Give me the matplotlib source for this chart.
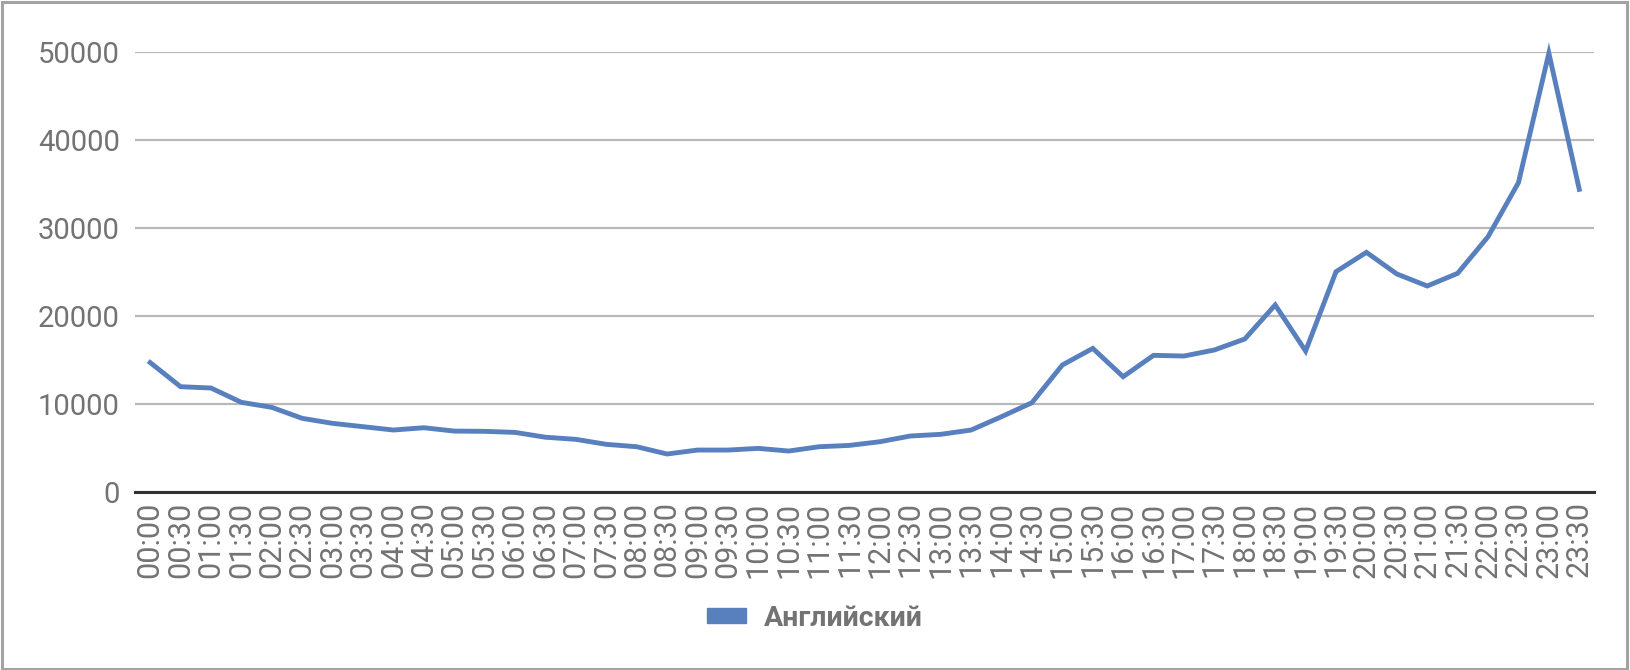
import matplotlib.pyplot as plt
from matplotlib.patches import Rectangle

times = ['00:00', '00:30', '01:00', '01:30', '02:00', '02:30', '03:00', '03:30',
         '04:00', '04:30', '05:00', '05:30', '06:00', '06:30', '07:00', '07:30',
         '08:00', '08:30', '09:00', '09:30', '10:00', '10:30', '11:00', '11:30',
         '12:00', '12:30', '13:00', '13:30', '14:00', '14:30', '15:00', '15:30',
         '16:00', '16:30', '17:00', '17:30', '18:00', '18:30', '19:00', '19:30',
         '20:00', '20:30', '21:00', '21:30', '22:00', '22:30', '23:00', '23:30']
english = [14700, 11950, 11800, 10170, 9600, 8350, 7780, 7400,
           7020, 7280, 6900, 6870, 6750, 6200, 5960, 5390,
           5120, 4290, 4740, 4740, 4930, 4630, 5120, 5270,
           5690, 6340, 6530, 7020, 8540, 10130, 14420, 16310,
           13090, 15520, 15440, 16130, 17380, 21250, 16010, 25040,
           27240, 24780, 23410, 24850, 29020, 35170, 49900, 34410]
yticks = [0, 10000, 20000, 30000, 40000, 50000]
series_name = 'Английский'

plt.rcParams['font.family'] = ['Roboto', 'DejaVu Sans']
grey = '#737373'
blue = '#5880be'

fig = plt.figure(figsize=(16.3, 6.7), dpi=100)
ax = fig.add_axes([0.0828, 0.2661, 0.8954, 0.6558])

ax.plot(range(len(times)), english, color=blue, lw=3.5, solid_joinstyle='miter',
        clip_on=False, label=series_name)

ax.set_xlim(-0.5, len(times) - 0.5)
ax.set_ylim(0, 50000)
ax.set_yticks(yticks)
ax.set_yticklabels([str(v) for v in yticks])
ax.set_xticks(range(len(times)))
ax.set_xticklabels(times, rotation=90)
ax.tick_params(axis='y', length=0, pad=11, labelsize=21, labelcolor=grey)
ax.tick_params(axis='x', length=0, pad=7, labelsize=22, labelcolor=grey)
ax.grid(axis='y', color='#b9b9b9', lw=1.6)
ax.set_axisbelow(True)
for s in ['top', 'right', 'left']:
    ax.spines[s].set_visible(False)
ax.spines['bottom'].set_color('#333333')
ax.spines['bottom'].set_linewidth(2.2)
ax.spines['bottom'].set_zorder(3)

leg = fig.legend(handles=[plt.Rectangle((0, 0), 1, 1, color=blue)],
                 labels=[series_name], loc='center', bbox_to_anchor=(0.5, 0.077),
                 frameon=False, handlelength=1.35, handleheight=0.45, handletextpad=0.65,
                 prop={'size': 20.5, 'weight': 'bold'})
for t in leg.get_texts():
    t.set_color(grey)

fig.add_artist(Rectangle((0.001, 0.002), 0.997, 0.995, transform=fig.transFigure,
                         fill=False, edgecolor='#a3a3a3', lw=2.2))

fig.savefig('out.png', dpi=100)
